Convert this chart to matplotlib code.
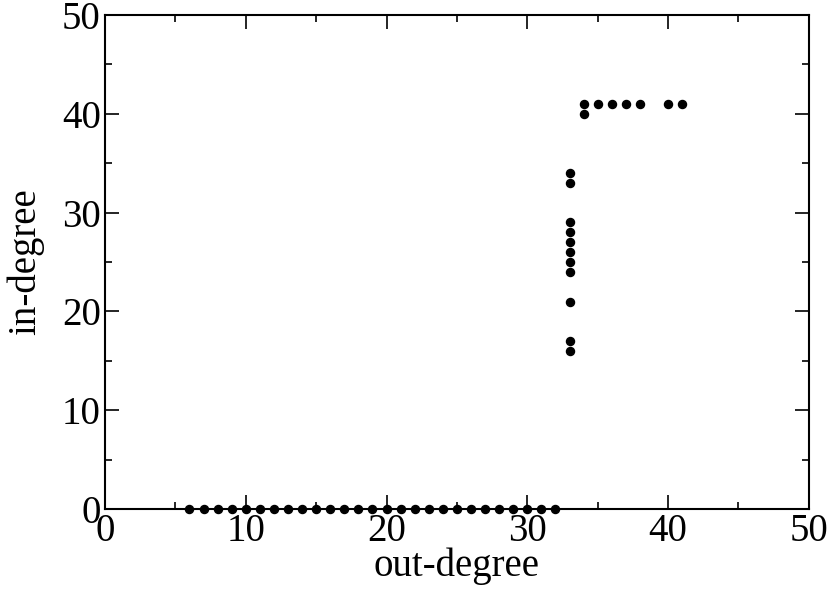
import matplotlib
matplotlib.use("Agg")
from matplotlib import pyplot as plt
from matplotlib.ticker import MultipleLocator

plt.rcParams['font.family'] = ['Liberation Serif', 'DejaVu Serif']

# nodes with zero in-degree, out-degree 6..32
row_out = [6, 7, 8, 9, 10, 11, 12, 13, 14, 15, 16, 17, 18, 19, 20,
           21, 22, 23, 24, 25, 26, 27, 28, 29, 30, 31, 32]
row_in = [0] * len(row_out)

# column at out-degree 33
col_out = [33] * 11
col_in = [34, 33, 29, 28, 27, 26, 25, 24, 21, 17, 16]

# top cluster
top_out = [34, 34, 35, 36, 37, 38, 40, 41]
top_in = [40, 41, 41, 41, 41, 41, 41, 41]

out_deg = row_out + col_out + top_out
in_deg = row_in + col_in + top_in

fig = plt.figure(figsize=(8.3, 5.89), dpi=100)
ax = fig.add_axes([0.1265, 0.1358, 0.848, 0.8387])

ax.plot(out_deg, in_deg, 'o', color='black', markersize=5.8, clip_on=False)

ax.set_xlim(0, 50)
ax.set_ylim(0, 50)
ax.xaxis.set_major_locator(MultipleLocator(10))
ax.xaxis.set_minor_locator(MultipleLocator(5))
ax.yaxis.set_major_locator(MultipleLocator(10))
ax.yaxis.set_minor_locator(MultipleLocator(5))
ax.tick_params(which='both', direction='in', top=True, right=True,
               labelsize=28, width=1.2)
ax.tick_params(which='major', length=10, pad=3)
ax.tick_params(which='minor', length=5)
for s in ax.spines.values():
    s.set_linewidth(1.5)

ax.set_xlabel("out-degree", fontsize=28, labelpad=-2)
ax.set_ylabel("in-degree", fontsize=28, labelpad=13)

fig.savefig("out.png", dpi=100)
